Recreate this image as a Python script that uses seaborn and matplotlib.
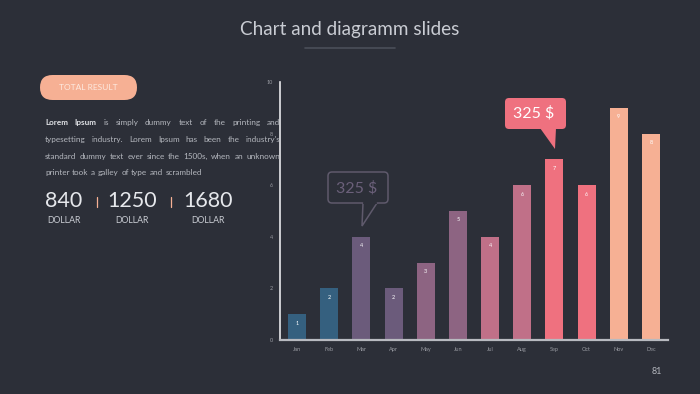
import matplotlib
matplotlib.use('Agg')
import matplotlib.pyplot as plt
import seaborn as sns
import pandas as pd
from matplotlib.patches import FancyBboxPatch, Polygon

# data
months = ['Jan', 'Feb', 'Mar', 'Apr', 'May', 'Jun', 'Jul', 'Aug', 'Sep', 'Oct', 'Nov', 'Dec']
values = [1, 2, 4, 2, 3, 5, 4, 6, 7, 6, 9, 8]
bar_colors = ['#35607f', '#35607f', '#6b5b7b', '#6b5b7b', '#8d6482', '#8d6482',
              '#c07088', '#c07088', '#ef717f', '#ef717f', '#f6b094', '#f6b094']
y_ticks = [0, 2, 4, 6, 8, 10]
totals = ['840', '1250', '1680']
total_unit = 'DOLLAR'
callout_text = '325 $'
para_lines = [
    ['Lorem', 'Ipsum', 'is', 'simply', 'dummy', 'text', 'of', 'the', 'printing', 'and'],
    ['typesetting', 'industry.', 'Lorem', 'Ipsum', 'has', 'been', 'the', "industry's"],
    ['standard', 'dummy', 'text', 'ever', 'since', 'the', '1500s,', 'when', 'an', 'unknown'],
    ['printer', 'took', 'a', 'galley', 'of', 'type', 'and', 'scrambled'],
]

BG = '#2c2f38'
FG = '#c9ccd3'
TICK = '#9a9ca3'

sns.set_style('dark')
plt.rcParams['font.family'] = ['Lato', 'DejaVu Sans']

fig = plt.figure(figsize=(7, 3.94), dpi=100, facecolor=BG)

# bar chart
ax = fig.add_axes([280 / 700, 1 - 340 / 394, 388 / 700, 258 / 394])
ax.set_facecolor(BG)
df = pd.DataFrame({'month': months, 'value': values})
sns.barplot(data=df, x='month', y='value', hue='month', palette=bar_colors,
            legend=False, width=0.56, saturation=1, linewidth=0, edgecolor='none', ax=ax)
ax.set_xlim(-0.53, 11.53)
ax.set_ylim(0, 10)
ax.set_yticks(y_ticks)
ax.set_yticklabels([str(t) for t in y_ticks])
ax.tick_params(axis='both', length=0, labelsize=4, colors=TICK, pad=5)
ax.set_xlabel('')
ax.set_ylabel('')
ax.grid(False)
for side in ['top', 'right']:
    ax.spines[side].set_visible(False)
ax.spines['left'].set_color('#e8e8ec')
ax.spines['left'].set_linewidth(1.2)
ax.spines['bottom'].set_color('#b8bac0')
ax.spines['bottom'].set_linewidth(1.6)

for i, v in enumerate(values):
    ax.text(i, v - 0.25, str(v), ha='center', va='top', fontsize=4, color='white')

# overlay in pixel coordinates for the slide decorations
ov = fig.add_axes([0, 0, 1, 1])
ov.set_xlim(0, 700)
ov.set_ylim(394, 0)
ov.axis('off')
ov.patch.set_visible(False)

# title
ov.text(350, 29, 'Chart and diagramm slides', ha='center', va='center', fontsize=13.6,
        color=FG)
ov.plot([305, 395], [48, 48], color='#4b4f59', lw=1.2)

# total result pill
ov.add_patch(FancyBboxPatch((40, 75), 97, 25, boxstyle='round,pad=0,rounding_size=12.5',
                            fc='#f6b094', ec='none'))
ov.text(88.5, 87.5, 'TOTAL RESULT', ha='center', va='center', fontsize=6.0, color='#fde9df')

# justified paragraph
fig.canvas.draw()
renderer = fig.canvas.get_renderer()
left, right = 45, 280
line_y = [122, 139, 156, 172]
for li, (words, y) in enumerate(zip(para_lines, line_y)):
    objs = []
    for wi, w in enumerate(words):
        bold = li == 0 and wi < 2
        t = ov.text(0, y, w, ha='left', va='center', fontsize=5.9,
                    color='#e2e4e8' if bold else '#b4b7be',
                    fontweight='bold' if bold else 'normal')
        objs.append(t)
    widths = [t.get_window_extent(renderer).width for t in objs]
    if li < len(para_lines) - 1:
        gap = (right - left - sum(widths)) / (len(words) - 1)
    else:
        gap = 2.6
    x = left
    for t, w in zip(objs, widths):
        t.set_x(x)
        x += w + gap

# totals
tot_x = [45, 107, 183]
unit_x = [64, 132, 208]
for tx, ux, val in zip(tot_x, unit_x, totals):
    ov.text(tx, 201, val, ha='left', va='center', fontsize=15.5, color='#e6e8ec')
    ov.text(ux, 220, total_unit, ha='center', va='center', fontsize=6.3, color='#c9ccd3')
for sx in [97, 171]:
    ov.plot([sx, sx], [197, 207], color='#f6b094', lw=0.9)

# outlined callout
ov.add_patch(FancyBboxPatch((328, 172), 60, 31, boxstyle='round,pad=0,rounding_size=4',
                            fc='none', ec='#5f5a6c', lw=1.1))
ov.add_patch(Polygon([[363, 203], [362, 226], [377, 203]], closed=False,
                     fc=BG, ec='#5f5a6c', lw=1.1))
ov.plot([364, 376], [203, 203], color=BG, lw=1.6)
ov.text(357, 188, callout_text, ha='center', va='center', fontsize=11.5, color='#6b607a')

# filled callout
ov.add_patch(FancyBboxPatch((505, 98), 61, 31, boxstyle='round,pad=0,rounding_size=4',
                            fc='#ef717f', ec='none'))
ov.add_patch(Polygon([[540, 128], [555, 149], [556, 128]], closed=True,
                     fc='#ef717f', ec='none'))
ov.text(534, 113, callout_text, ha='center', va='center', fontsize=11.5, color='white')

# page number
ov.text(657, 371, '81', ha='center', va='center', fontsize=6.5, color='#b4b7be')

fig.savefig('out.png', dpi=100, facecolor=BG)
